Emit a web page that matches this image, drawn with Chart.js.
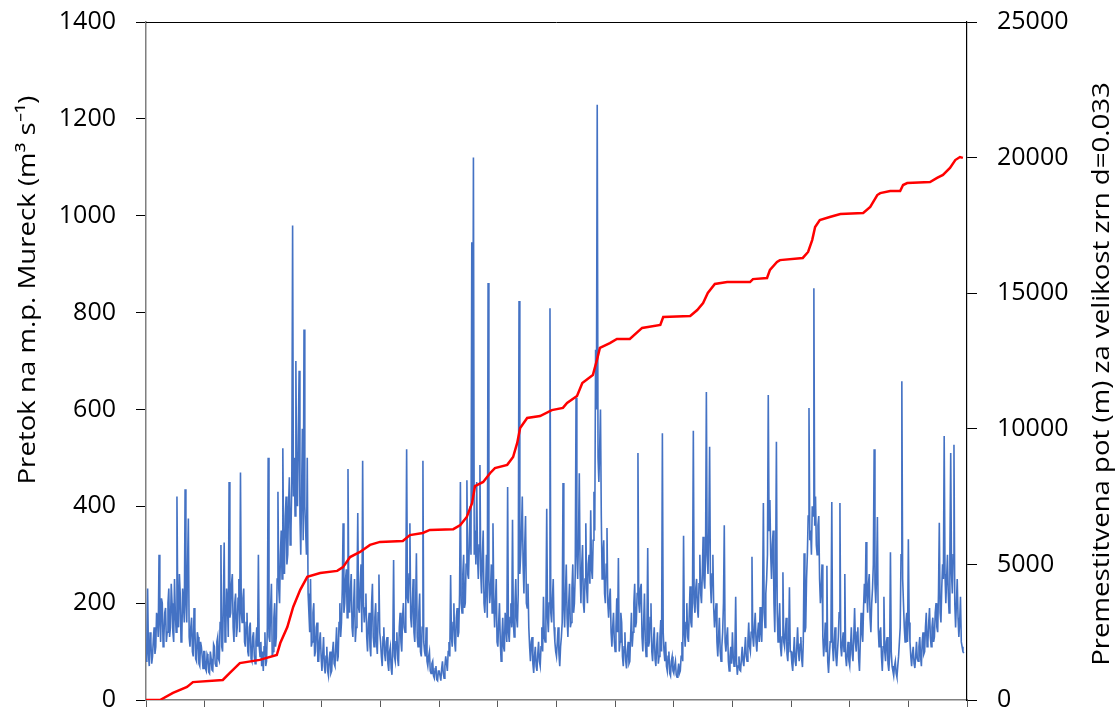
<!DOCTYPE html>
<html>
<head>
<meta charset="utf-8">
<script src="https://cdn.jsdelivr.net/npm/chart.js@4.4.1/dist/chart.umd.min.js"></script>
<style>
  html, body { margin: 0; padding: 0; background: #fff; }
  #wrap { position: relative; width: 1120px; height: 713px; }
</style>
</head>
<body>
<div id="wrap"><canvas id="flowChart"></canvas></div>
<script>
const samplesPerYear = 72;
const flowByYear = [
  [80,110,230,95,70,140,120,75,90,125,150,95,110,180,170,130,300,160,120,210,200,110,130,180,190,120,140,200,230,130,150,240,200,140,120,250,180,140,420,190,150,260,220,120,130,230,200,160,435,200,160,280,375,130,110,150,170,100,90,190,150,85,80,140,130,75,70,120,110,90,65,100],
  [100,65,60,95,90,58,55,100,85,62,60,115,110,75,70,120,130,85,80,160,320,110,100,200,325,120,140,230,200,130,450,170,180,240,260,150,120,200,220,130,150,210,250,140,470,180,160,210,230,120,110,160,180,100,90,150,160,85,80,130,140,90,75,120,150,110,300,110,90,120,70,100],
  [60,110,140,70,80,150,500,130,120,190,240,90,100,170,200,110,130,250,430,230,200,300,350,250,520,300,260,380,420,280,300,400,460,320,350,450,980,420,500,380,700,450,400,550,680,380,300,420,560,330,765,400,350,300,500,220,180,140,250,110,120,180,200,90,100,150,160,80,80,120,140,90],
  [60,95,130,70,55,90,110,60,50,85,100,55,60,100,120,75,70,110,150,80,90,160,200,130,160,230,365,180,200,250,270,170,477,220,180,230,260,150,130,200,250,120,150,210,386,190,180,240,280,140,494,200,160,190,220,130,100,160,180,110,90,200,240,130,110,170,200,120,95,180,259,140],
  [120,90,70,130,150,95,80,120,130,75,60,100,110,65,52,110,289,90,80,120,140,85,70,150,180,120,100,170,200,150,140,230,518,210,200,260,365,170,150,200,250,140,120,190,303,130,110,180,220,100,90,150,494,120,100,90,150,80,70,90,100,60,55,75,80,50,45,65,70,42,40,60],
  [60,50,40,65,80,55,45,70,90,75,60,100,120,90,258,130,110,160,200,120,100,170,190,130,140,220,450,200,180,260,300,190,200,280,454,260,250,330,400,300,945,420,1120,300,350,280,450,300,250,320,485,260,220,300,350,200,180,230,300,170,861,250,200,230,280,180,365,210,150,200,250,120],
  [110,160,200,120,80,130,170,110,100,180,150,120,440,140,120,170,200,150,372,160,130,200,250,170,150,220,824,260,300,350,420,280,220,320,380,200,190,240,150,110,80,120,130,75,56,90,110,70,60,95,120,80,70,110,150,100,213,130,120,180,395,170,140,200,809,180,160,210,250,150,120,100],
  [90,120,150,95,70,110,130,160,448,190,150,220,280,170,130,200,240,150,160,230,280,180,200,260,624,300,250,330,468,260,200,280,320,200,180,250,365,230,200,280,300,240,392,270,250,330,430,350,723,600,1229,500,450,520,600,380,250,300,330,220,200,280,355,200,170,210,230,140,110,150,180,120],
  [100,150,210,140,293,100,120,180,160,90,70,110,140,80,65,100,120,75,80,130,180,110,140,200,240,150,160,220,510,200,180,230,240,130,100,160,220,120,90,140,314,110,120,170,200,100,80,120,150,85,70,110,140,75,90,130,165,100,551,140,100,80,120,70,60,90,100,55,50,80,90,60],
  [55,70,80,52,47,60,75,55,60,90,120,80,339,140,110,160,200,130,120,180,235,160,150,220,556,200,180,230,250,190,170,240,300,220,200,260,337,250,230,300,636,300,260,350,523,240,200,260,300,190,150,180,200,120,90,130,170,100,80,110,140,200,361,120,100,130,150,80,60,90,110,75],
  [140,90,70,100,213,80,52,70,90,62,60,85,110,80,70,100,130,90,80,120,160,110,100,140,296,130,110,150,180,120,100,140,160,120,192,140,120,200,407,180,150,220,250,300,630,350,413,300,250,320,350,200,140,250,533,180,120,160,200,110,90,130,264,120,110,140,170,95,80,120,233,100],
  [100,75,60,95,130,80,70,110,150,100,80,115,130,85,68,120,303,140,150,250,300,380,603,330,350,300,400,380,850,360,420,320,300,360,380,250,200,230,280,130,90,120,160,100,277,80,56,90,120,150,409,110,80,120,150,90,70,100,130,180,407,110,90,120,140,100,260,90,70,95,120,80],
  [70,110,150,95,80,130,190,120,100,140,150,85,60,120,180,140,120,190,240,200,326,220,180,240,260,170,140,200,230,280,518,240,200,260,378,150,110,140,150,90,60,110,213,100,80,120,130,75,60,90,305,100,70,60,50,70,80,55,47,70,90,120,150,300,658,250,200,150,120,160,180,120],
  [332,160,120,90,70,95,110,75,66,90,120,85,80,110,130,90,70,120,140,95,100,150,180,110,120,160,190,130,110,150,170,120,130,180,200,150,140,220,366,180,160,230,280,250,545,260,200,250,300,220,180,300,510,260,220,300,527,200,150,200,250,170,130,160,213,120,110,100,97]
];

// cumulative travel distance (m) for grain size d=0.033
const distYears = [0,0.24,0.46,0.70,0.80,1.31,1.43,1.60,1.94,2.23,2.29,2.41,2.51,2.63,2.75,2.97,3.26,3.36,3.48,3.65,3.82,3.99,4.38,4.50,4.72,4.84,5.24,5.36,5.47,5.56,5.61,5.75,5.87,5.95,6.16,6.26,6.33,6.38,6.50,6.72,6.92,7.11,7.18,7.35,7.44,7.62,7.69,7.74,7.91,8.03,8.25,8.46,8.77,8.82,9.28,9.40,9.50,9.58,9.70,9.91,10.30,10.35,10.59,10.64,10.76,10.81,11.20,11.29,11.36,11.41,11.49,11.66,11.84,12.23,12.35,12.47,12.52,12.69,12.86,12.91,12.98,13.37,13.49,13.59,13.71,13.80,13.88,13.93];
const distMeters = [0,0,260,480,660,740,1000,1360,1480,1660,2100,2690,3430,4060,4540,4680,4760,4900,5270,5460,5720,5830,5860,6080,6160,6270,6300,6450,6750,7260,7890,8040,8370,8550,8670,8960,9480,10030,10400,10470,10690,10770,10950,11210,11690,11980,12540,12980,13160,13310,13310,13720,13830,14120,14160,14380,14640,15010,15340,15410,15410,15520,15560,15860,16150,16220,16300,16520,16960,17440,17700,17810,17920,17960,18180,18620,18690,18770,18770,18990,19060,19100,19250,19360,19620,19910,20020,19990];

const flowTicks = [0,200,400,600,800,1000,1200,1400];
const distTicks = [0,5000,10000,15000,20000,25000];
const yearTicks = [0,1,2,3,4,5,6,7,8,9,10,11,12,13,14];

const flowTitle = 'Pretok na m.p. Mureck (m\u00B3 s\u207B\u00B9)';
const distTitle = 'Premestitvena pot (m) za velikost zrn d=0.033';

const flowValues = flowByYear.flat();
const flowPoints = flowValues.map((q, i) => ({ x: i / samplesPerYear, y: q }));
const distPoints = distYears.map((t, i) => ({ x: t, y: distMeters[i] }));

const FONT = '"Open Sans", sans-serif';

// y axes: fixed widths, and no extra vertical padding from the tick labels
function fixAxis(width) {
  return s => {
    s.width = width;
    s.paddingTop = 0;
    s.paddingBottom = 0;
  };
}

function drawVerticalTitle(ctx, text, x, y) {
  ctx.save();
  ctx.fillStyle = '#000';
  ctx.font = '24px ' + FONT;
  ctx.textAlign = 'center';
  ctx.textBaseline = 'middle';
  ctx.translate(x, y);
  ctx.rotate(-Math.PI / 2);
  ctx.scale(1.15, 1); // the original text runs a bit wider
  ctx.fillText(text, 0, 0);
  ctx.restore();
}

// frame line on top + axis titles (right one reads bottom-to-top like the left one)
const framePlugin = {
  id: 'frame',
  afterDraw(chart) {
    const { ctx, chartArea } = chart;
    ctx.save();
    ctx.strokeStyle = '#000';
    ctx.lineWidth = 1;
    ctx.beginPath();
    ctx.moveTo(chartArea.left, chartArea.top + 0.5);
    ctx.lineTo(chartArea.right, chartArea.top + 0.5);
    ctx.stroke();
    ctx.restore();

    drawVerticalTitle(ctx, flowTitle, 28, 290);
    drawVerticalTitle(ctx, distTitle, 1102, 374);
  }
};

new Chart(document.getElementById('flowChart'), {
  type: 'line',
  data: {
    datasets: [
      {
        label: 'Premestitvena pot',
        data: distPoints,
        yAxisID: 'y2',
        borderColor: '#ff0000',
        borderWidth: 2.5,
        pointRadius: 0,
        tension: 0,
        order: 0
      },
      {
        label: 'Pretok',
        data: flowPoints,
        yAxisID: 'y',
        borderColor: '#4472c4',
        borderWidth: 1.6,
        pointRadius: 0,
        tension: 0,
        order: 1
      }
    ]
  },
  options: {
    responsive: true,
    maintainAspectRatio: false,
    animation: false,
    devicePixelRatio: 1,
    layout: { padding: { top: 22, bottom: 6, left: 0, right: 0 } },
    plugins: {
      legend: { display: false },
      tooltip: { enabled: false }
    },
    scales: {
      x: {
        type: 'linear',
        min: 0,
        max: 14,
        afterBuildTicks: s => { s.ticks = yearTicks.map(v => ({ value: v })); },
        ticks: { display: false },
        grid: { drawOnChartArea: false, drawTicks: true, tickLength: 7, color: '#595959' },
        border: { color: '#7f7f7f', width: 1.5 }
      },
      y: {
        position: 'left',
        min: 0,
        max: 1400,
        afterBuildTicks: s => { s.ticks = flowTicks.map(v => ({ value: v })); },
        afterFit: fixAxis(146),
        ticks: {
          padding: 20, color: '#000', font: { family: FONT, size: 25 },
          callback: v => String(v)
        },
        grid: { drawOnChartArea: false, tickLength: 10, color: '#000' },
        border: { color: '#7f7f7f', width: 1.5 }
      },
      y2: {
        position: 'right',
        min: 0,
        max: 25000,
        afterBuildTicks: s => { s.ticks = distTicks.map(v => ({ value: v })); },
        afterFit: fixAxis(153),
        ticks: {
          padding: 20, color: '#000', font: { family: FONT, size: 25 },
          callback: v => String(v)
        },
        grid: { drawOnChartArea: false, tickLength: 10, color: '#000' },
        border: { color: '#000', width: 1.2 }
      }
    }
  },
  plugins: [framePlugin]
});
</script>
</body>
</html>
